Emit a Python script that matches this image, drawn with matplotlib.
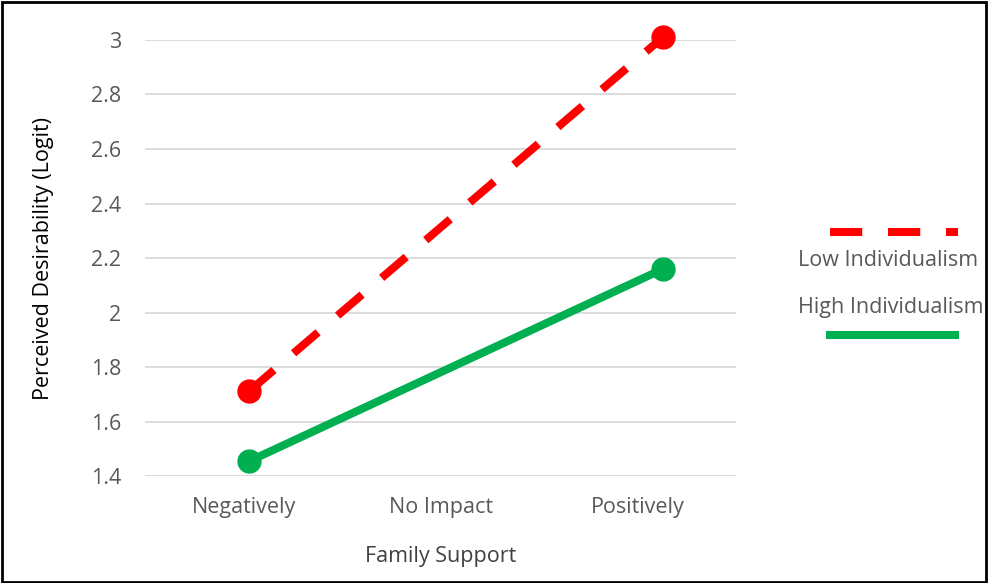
import matplotlib.pyplot as plt
from matplotlib.lines import Line2D
from matplotlib.patches import Rectangle

categories = ['Negatively', 'No Impact', 'Positively']
# points sit slightly off the category centres in the original
low_x = [0.03, 2.13]
low_vals = [1.712, 3.011]
high_x = [0.03, 2.13]
high_vals = [1.455, 2.16]
yticks = [1.4, 1.6, 1.8, 2.0, 2.2, 2.4, 2.6, 2.8, 3.0]
ytick_labels = ['1.4', '1.6', '1.8', '2', '2.2', '2.4', '2.6', '2.8', '3']

plt.rcParams['font.family'] = ['Open Sans', 'DejaVu Sans']
grey = '#595959'
red = '#ff0000'
green = '#00b050'
fs = 15.5

fig = plt.figure(figsize=(9.88, 5.83), dpi=100)
ax = fig.add_axes([0.1468, 0.1835, 0.5982, 0.7479])

ax.plot(low_x, low_vals, color=red, lw=5.8, dashes=(4, 3.2),
        marker='o', markersize=16.5, dash_capstyle='butt', zorder=3, clip_on=False)
ax.plot(high_x, high_vals, color=green, lw=5.8,
        marker='o', markersize=16.5, zorder=3, clip_on=False)

ax.set_xlim(-0.5, 2.5)
ax.set_ylim(1.4, 3.0)
ax.set_xticks(range(len(categories)))
ax.set_xticklabels(categories)
ax.set_yticks(yticks)
ax.set_yticklabels(ytick_labels)
ax.tick_params(length=0, colors=grey, labelsize=fs)
ax.tick_params(axis='y', pad=17)
ax.tick_params(axis='x', pad=15)
ax.grid(axis='y', color='#d9d9d9', lw=1.3)
ax.set_axisbelow(True)
for s in ax.spines.values():
    s.set_visible(False)

ax.set_xlabel('Family Support', color='#404040', fontsize=fs, labelpad=20)
ax.set_ylabel('Perceived Desirability (Logit)', color='#000000', fontsize=fs, labelpad=27)

# legend drawn by hand: sample line above the first label, below the second
fig.add_artist(Line2D([830 / 988, 958 / 988], [1 - 232 / 583] * 2, color=red,
                      lw=5.8, dashes=(4, 3.2), dash_capstyle='butt'))
fig.text(798 / 988, 1 - 260 / 583, 'Low Individualism', color=grey,
         fontsize=fs, va='center', ha='left')
fig.text(798 / 988, 1 - 307 / 583, 'High Individualism', color=grey,
         fontsize=fs, va='center', ha='left')
fig.add_artist(Line2D([830 / 988, 955 / 988], [1 - 335 / 583] * 2, color=green,
                      lw=5.8))

fig.add_artist(Rectangle((0.002, 0.002), 0.996, 0.995, transform=fig.transFigure,
                         fill=False, edgecolor='black', lw=2))

fig.savefig('out.png', dpi=100)
